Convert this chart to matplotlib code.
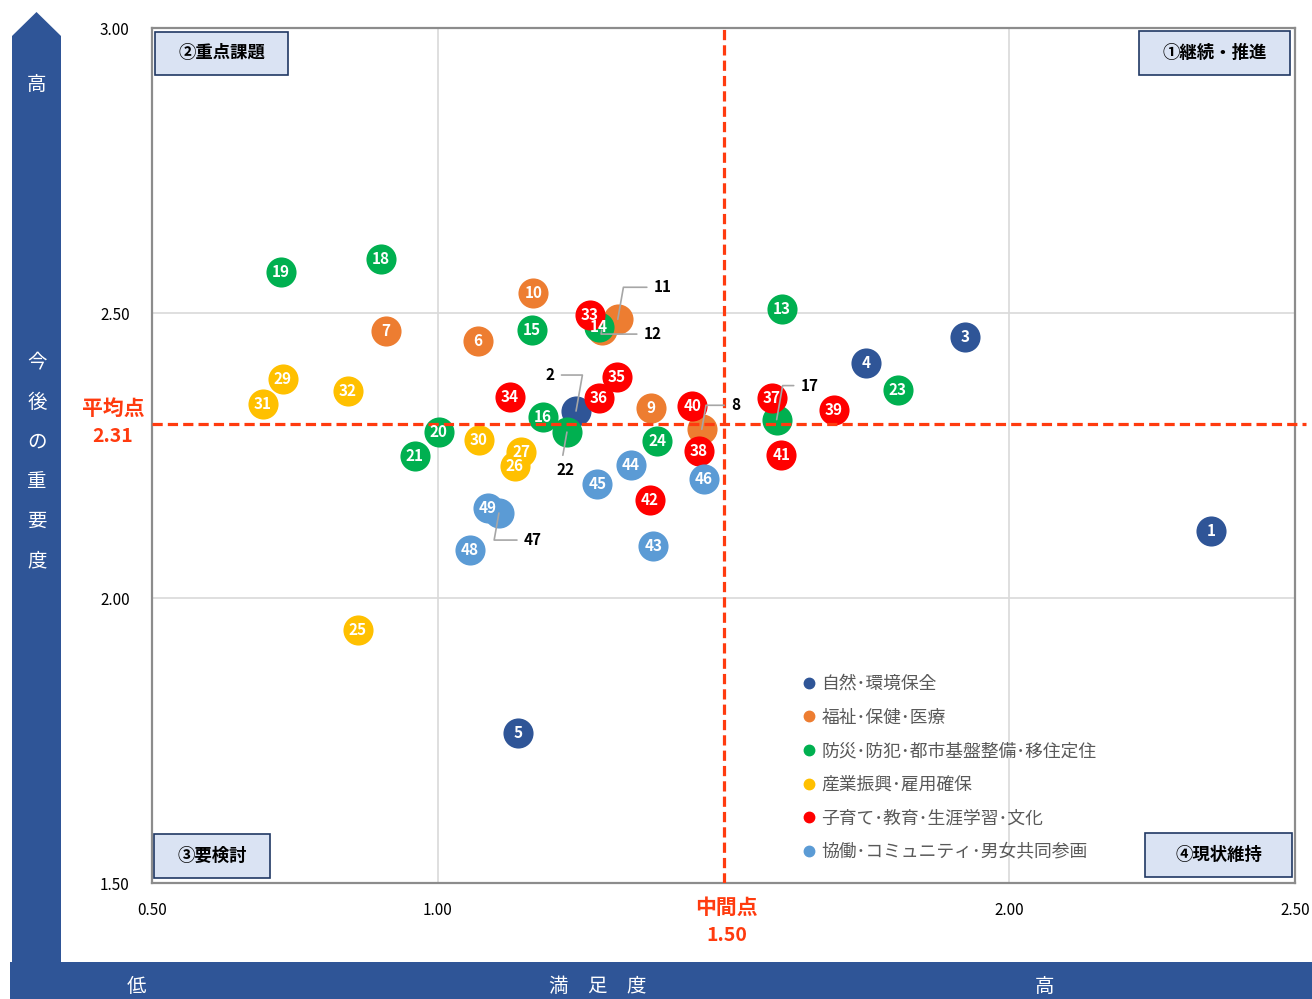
import matplotlib.pyplot as plt
from matplotlib.lines import Line2D
from matplotlib.patches import Polygon, Rectangle

plt.rcParams['font.family'] = ['Noto Sans CJK JP', 'DejaVu Sans']

# --- data -------------------------------------------------------------
categories = ["自然･環境保全", "福祉･保健･医療", "防災･防犯･都市基盤整備･移住定住",
              "産業振興･雇用確保", "子育て･教育･生涯学習･文化", "協働･コミュニティ･男女共同参画"]
cat_colors = ["#2F5597", "#ED7D31", "#00B050", "#FFC000", "#FF0000", "#5B9BD5"]

item_no = [1, 2, 3, 4, 5,
           6, 7, 8, 9, 10, 11, 12,
           13, 14, 15, 16, 17, 18, 19, 20, 21, 22, 23, 24,
           25, 26, 27, 29, 30, 31, 32,
           33, 34, 35, 36, 37, 38, 39, 40, 41, 42,
           43, 44, 45, 46, 47, 48, 49]
satisfaction = [2.353, 1.242, 1.923, 1.749, 1.140,
                1.070, 0.909, 1.462, 1.373, 1.167, 1.315, 1.287,
                1.602, 1.282, 1.165, 1.184, 1.593, 0.901, 0.726, 1.002, 0.960, 1.226, 1.805, 1.384,
                0.860, 1.135, 1.146, 0.729, 1.072, 0.694, 0.843,
                1.266, 1.126, 1.314, 1.282, 1.585, 1.457, 1.693, 1.445, 1.601, 1.371,
                1.377, 1.338, 1.279, 1.466, 1.107, 1.056, 1.088]
importance = [2.118, 2.328, 2.458, 2.412, 1.763,
              2.451, 2.468, 2.296, 2.333, 2.535, 2.489, 2.470,
              2.507, 2.475, 2.470, 2.318, 2.313, 2.595, 2.572, 2.291, 2.249, 2.291, 2.365, 2.275,
              1.944, 2.232, 2.256, 2.384, 2.277, 2.340, 2.363,
              2.496, 2.353, 2.388, 2.351, 2.351, 2.258, 2.330, 2.337, 2.251, 2.172,
              2.091, 2.233, 2.200, 2.209, 2.149, 2.084, 2.158]
category = [0] * 5 + [1] * 7 + [2] * 12 + [3] * 7 + [4] * 10 + [5] * 7

avg_importance = 2.305
avg_label = "2.31"
mid_satisfaction = 1.50
mid_label = "1.50"

# items whose number is drawn outside with a leader line: (dx, dy) in pixels
leader_offsets = {2: (-26, 36), 8: (34, 24), 11: (45, 32), 12: (51, -4),
                  17: (33, 34), 22: (-1, -38), 47: (34, -27)}

RED = "#FF3B0F"
NAVY = "#2F5597"

fig = plt.figure(figsize=(13.12, 9.99), dpi=100)
W, H = 1312, 999
ax = fig.add_axes([152 / W, 1 - 883 / H, (1295 - 152) / W, (883 - 28) / H])

ax.set_xlim(0.5, 2.5)
ax.set_ylim(1.5, 3.0)
ax.set_xticks([0.5, 1.0, 2.0, 2.5])
ax.set_yticks([1.5, 2.0, 2.5, 3.0])
ax.xaxis.set_major_formatter(lambda v, p: f"{v:.2f}")
ax.yaxis.set_major_formatter(lambda v, p: f"{v:.2f}")
ax.tick_params(length=0, labelsize=11, colors="#000000")
ax.tick_params(axis="x", pad=14)
ax.tick_params(axis="y", pad=16)
ax.grid(True, color="#D9D9D9", lw=1.2)
ax.set_axisbelow(True)
for s in ax.spines.values():
    s.set_color("#8C8C8C")
    s.set_linewidth(1.6)

# scatter, one call per category so later series sit on top
for ci, col in enumerate(cat_colors):
    xs = [x for x, c in zip(satisfaction, category) if c == ci]
    ys = [y for y, c in zip(importance, category) if c == ci]
    ax.scatter(xs, ys, s=470, color=col, linewidths=0, zorder=3)

for no, x, y in zip(item_no, satisfaction, importance):
    if no in leader_offsets:
        dx, dy = leader_offsets[no]
        ax.annotate(str(no), xy=(x, y), xytext=(dx, dy), textcoords="offset pixels",
                    ha="center", va="center", fontsize=11, fontweight="bold",
                    color="black", zorder=6,
                    arrowprops=dict(arrowstyle="-", color="#A6A6A6", lw=1.2,
                                    shrinkA=3, shrinkB=0,
                                    connectionstyle="angle,angleA=0,angleB=80,rad=0"))
    else:
        ax.text(x, y, str(no), ha="center", va="center", fontsize=11,
                fontweight="bold", color="white", zorder=5)

# average / midpoint lines
ls = (0, (3.2, 1.6))
ax.axhline(avg_importance, xmin=0, xmax=1.01, color=RED, lw=2.3, ls=ls, zorder=4, clip_on=False)
ax.axvline(mid_satisfaction, color=RED, lw=2.3, ls=ls, zorder=4)

ax.annotate("平均点", xy=(0.5, avg_importance), xytext=(-39, 16), textcoords="offset pixels",
            ha="center", va="center", fontsize=15, fontweight="bold", color=RED,
            annotation_clip=False)
ax.annotate(avg_label, xy=(0.5, avg_importance), xytext=(-39, -12), textcoords="offset pixels",
            ha="center", va="center", fontsize=14, fontweight="bold", color=RED,
            annotation_clip=False)
ax.annotate("中間点", xy=(mid_satisfaction, 1.5), xytext=(3, -24), textcoords="offset pixels",
            ha="center", va="center", fontsize=15, fontweight="bold", color=RED,
            annotation_clip=False)
ax.annotate(mid_label, xy=(mid_satisfaction, 1.5), xytext=(3, -52), textcoords="offset pixels",
            ha="center", va="center", fontsize=14, fontweight="bold", color=RED,
            annotation_clip=False)

# legend
handles = [Line2D([], [], marker="o", ls="", color=c, markersize=7.5) for c in cat_colors]
leg = fig.legend(handles, categories, loc="upper left", bbox_to_anchor=(802 / W, 1 - 675 / H),
                 frameon=False, fontsize=12.8, handlelength=0.8, handletextpad=0.3,
                 labelspacing=0.88, borderpad=0, borderaxespad=0)
for t in leg.get_texts():
    t.set_color("#595959")

# decoration overlay in pixel coordinates
ov = fig.add_axes([0, 0, 1, 1], zorder=10)
ov.set_xlim(0, W)
ov.set_ylim(H, 0)
ov.axis("off")
ov.patch.set_alpha(0)

ov.add_patch(Polygon([(12, 36), (36.5, 12), (61, 36), (61, 963), (12, 963)],
                     closed=True, color=NAVY, lw=0))
ov.add_patch(Rectangle((10, 962), W - 10, H - 962, color=NAVY, lw=0))

ov.text(37, 84, "高", ha="center", va="center", color="white", fontsize=14)
for i, ch in enumerate("今後の重要度"):
    ov.text(37, 363 + i * 39.6, ch, ha="center", va="center", color="white", fontsize=14)
ov.text(136, 987, "低", ha="center", va="center", color="white", fontsize=14)
ov.text(598, 987, "満　足　度", ha="center", va="center", color="white", fontsize=14)
ov.text(1045, 987, "高", ha="center", va="center", color="white", fontsize=14)

quad_boxes = [("②重点課題", 155, 32, 288, 75),
              ("①継続・推進", 1139, 31, 1290, 75),
              ("③要検討", 154, 834, 270, 878),
              ("④現状維持", 1145, 833, 1292, 877)]
for label, x0, y0, x1, y1 in quad_boxes:
    ov.add_patch(Rectangle((x0, y0), x1 - x0, y1 - y0, facecolor="#DAE3F3",
                           edgecolor="#203864", lw=1.2))
    ov.text((x0 + x1) / 2, (y0 + y1) / 2, label, ha="center", va="center",
            fontsize=12.5, fontweight="bold", color="#000000")

fig.savefig("out.png", dpi=100)
